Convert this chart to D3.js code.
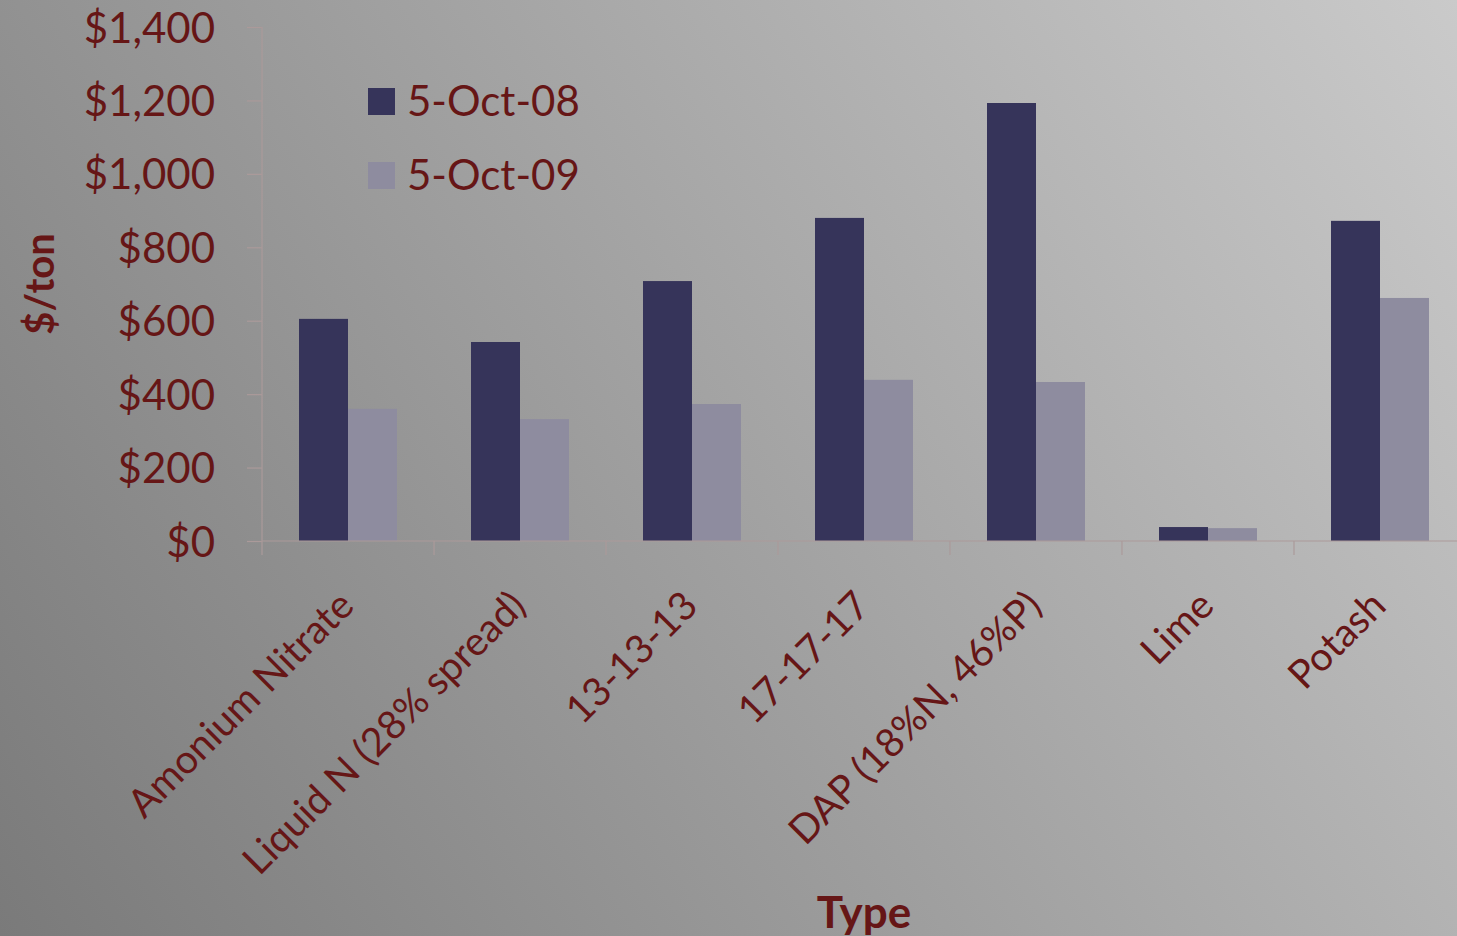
<!DOCTYPE html>
<html>
<head>
<meta charset="utf-8">
<script src="https://cdn.jsdelivr.net/npm/d3@7"></script>
<style>
  body{margin:0;padding:0;overflow:hidden;}
  text{font-family:Lato,"Open Sans",sans-serif;fill:#661616;}
</style>
</head>
<body>
<div id="chart"></div>
<script>
var categories = ["Amonium Nitrate","Liquid N (28% spread)","13-13-13","17-17-17","DAP (18%N, 46%P)","Lime","Potash"]
var seriesNames = ["5-Oct-08","5-Oct-09"]
var oct08 = [605,542,708,880,1193,38,872]
var oct09 = [360,332,373,439,433,35,662]
var yTicks = [0,200,400,600,800,1000,1200,1400]

var w = 1457
var h = 936
var plotLeft = 262, plotTop = 27, plotBottom = 541, plotRight = 1466
var colors = ["#36345a","#8e8c9f"]
var axisColor = "#ab9a9a"

var svg = d3.select("#chart").append("svg").attr("width",w).attr("height",h)

// background gradient, light top-right to dark bottom-left
var grad = svg.append("defs").append("linearGradient").attr("id","bg")
    .attr("gradientUnits","userSpaceOnUse")
    .attr("x1",w).attr("y1",0).attr("x2",0).attr("y2",h)
grad.append("stop").attr("offset","0").attr("stop-color","#cacaca")
grad.append("stop").attr("offset","1").attr("stop-color","#7a7a7a")
svg.append("rect").attr("width",w).attr("height",h).attr("fill","url(#bg)")

var yScale = d3.scaleLinear().domain([0,1400]).range([plotBottom,plotTop])
var x0 = d3.scaleBand().domain(categories).range([plotLeft,plotRight]).padding(0)
var x1 = d3.scaleBand().domain(seriesNames).range([37,135])

var data = categories.map(function(c,i){
    return {cat:c, values:[{s:seriesNames[0],v:oct08[i]},{s:seriesNames[1],v:oct09[i]}]}
})

// y axis
var yAxis = d3.axisLeft(yScale).tickValues(yTicks).tickSize(15)
    .tickFormat(function(d){return "$"+d3.format(",")(d)})
var gy = svg.append("g").attr("transform","translate("+plotLeft+",0)").call(yAxis)
gy.select(".domain").remove()
gy.selectAll("line").attr("stroke",axisColor).attr("stroke-width",1.2)
gy.selectAll("text").attr("x",-47).attr("dy","0.36em")
    .style("font-size","42px").attr("fill","#661616")
svg.append("line").attr("x1",plotLeft).attr("x2",plotLeft).attr("y1",plotTop).attr("y2",plotBottom+14)
    .attr("stroke",axisColor).attr("stroke-width",1.2)

// bars
var groups = svg.selectAll(".grp").data(data).enter().append("g")
    .attr("class","grp")
    .attr("transform",function(d){return "translate("+x0(d.cat)+",0)"})
groups.selectAll("rect").data(function(d){return d.values}).enter().append("rect")
    .attr("x",function(d){return x1(d.s)})
    .attr("width",x1.bandwidth())
    .attr("y",function(d){return yScale(d.v)})
    .attr("height",function(d){return plotBottom-yScale(d.v)})
    .attr("fill",function(d,i){return colors[i]})

// x axis line + boundary ticks
svg.append("line").attr("x1",plotLeft).attr("x2",plotRight).attr("y1",plotBottom).attr("y2",plotBottom)
    .attr("stroke",axisColor).attr("stroke-width",1.2)
svg.selectAll(".xtick").data(categories).enter().append("line")
    .attr("class","xtick")
    .attr("x1",function(d){return x0(d)+x0.bandwidth()}).attr("x2",function(d){return x0(d)+x0.bandwidth()})
    .attr("y1",plotBottom).attr("y2",plotBottom+14)
    .attr("stroke",axisColor).attr("stroke-width",1.2)

// category labels
svg.selectAll(".catlabel").data(categories).enter().append("text")
    .attr("class","catlabel")
    .attr("text-anchor","end")
    .style("font-size","39.5px")
    .attr("transform",function(d){
        var cx = x0(d)+x0.bandwidth()/2+8
        return "translate("+cx+","+(plotBottom+67)+") rotate(-45)"
    })
    .text(function(d){return d})

// legend
var legend = svg.selectAll(".leg").data(seriesNames).enter().append("g")
    .attr("class","leg")
    .attr("transform",function(d,i){return "translate(368,"+(88+i*74)+")"})
legend.append("rect").attr("width",27).attr("height",27).attr("fill",function(d,i){return colors[i]})
legend.append("text").attr("x",39).attr("y",28).style("font-size","42px").text(function(d){return d})

// axis titles
svg.append("text").attr("text-anchor","middle").style("font-size","40px").style("font-weight","bold")
    .attr("transform","translate(54,284) rotate(-90)").text("$/ton")
svg.append("text").attr("text-anchor","middle").style("font-size","44px").style("font-weight","bold")
    .attr("x",864).attr("y",928).text("Type")
</script>
</body>
</html>
